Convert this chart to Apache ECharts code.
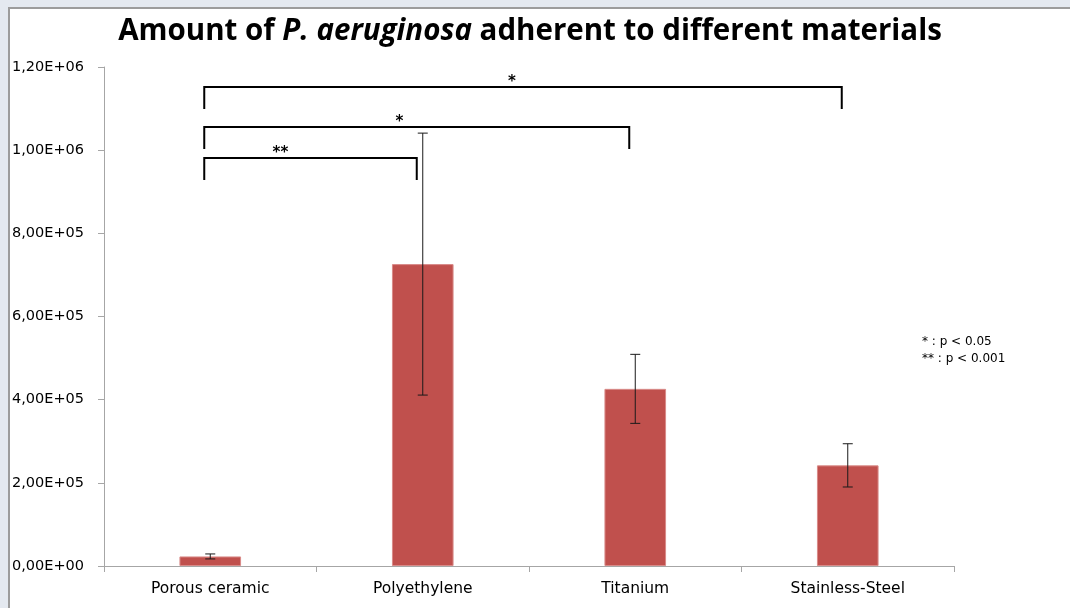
<!DOCTYPE html>
<html>
<head>
<meta charset="utf-8">
<script src="https://cdn.jsdelivr.net/npm/echarts@6/dist/echarts.min.js"></script>
<style>
  body { margin: 0; background: #e4e9f0; }
  #frame {
    position: absolute; left: 8px; top: 7px; width: 1062px; height: 601px;
    background: #ffffff; border-left: 2px solid #9c9c9c; border-top: 2px solid #9c9c9c;
  }
  #chart { position: absolute; left: 0; top: 0; width: 1070px; height: 608px; }
</style>
</head>
<body>
<div id="frame"></div>
<div id="chart"></div>
<script>
// materials tested
const categories = ['Porous ceramic', 'Polyethylene', 'Titanium', 'Stainless-Steel']
// mean number of adherent bacteria
const means = [23000, 726000, 426000, 242000]
// error bar half-heights
const errors = [6000, 315000, 83000, 52000]

// significance brackets: from category, to category, top value, bottom value, label, label position
const bracketFrom = [0, 0, 0]
const bracketTo = [1, 2, 3]
const bracketTop = [981000, 1056000, 1152000]
const bracketBottom = [928000, 1003000, 1099000]
const bracketLabels = ['**', '*', '*']
const bracketLabelPos = [0.33, 0.89, 1.42]

const chart = echarts.init(document.getElementById('chart'), null, { renderer: 'canvas' })

const fmtSci = (v) => {
  if (v === 0) return '0,00E+00'
  const e = Math.floor(Math.log10(v))
  const m = (v / Math.pow(10, e)).toFixed(2).replace('.', ',')
  return m + 'E+' + String(e).padStart(2, '0')
}

const errorData = categories.map((c, i) => [i, means[i] - errors[i], means[i] + errors[i]])
const bracketData = bracketFrom.map((f, i) => [f, bracketTo[i], bracketTop[i], bracketBottom[i], bracketLabelPos[i], i])

const option = {
  backgroundColor: 'transparent',
  animation: false,
  title: {
    text: 'Amount of {i|P. aeruginosa} adherent to different materials',
    left: 525,
    textAlign: 'center',
    top: 12,
    textStyle: {
      fontFamily: 'Open Sans',
      fontSize: 29.5,
      fontWeight: 'bold',
      color: '#000',
      rich: {
        i: { fontFamily: 'Open Sans', fontSize: 29.5, fontWeight: 'bold', fontStyle: 'italic', color: '#000' }
      }
    }
  },
  grid: { left: 104, right: 116, top: 67, bottom: 42 },
  xAxis: {
    type: 'category',
    data: categories,
    axisLine: { lineStyle: { color: '#a6a6a6', width: 1 } },
    axisTick: { show: true, length: 6, lineStyle: { color: '#a6a6a6' } },
    axisLabel: { color: '#000', fontFamily: 'DejaVu Sans', fontSize: 15.5, margin: 15 }
  },
  yAxis: {
    type: 'value',
    min: 0,
    max: 1200000,
    interval: 200000,
    axisLine: { show: true, lineStyle: { color: '#a6a6a6', width: 1 } },
    axisTick: { show: true, length: 6, lineStyle: { color: '#a6a6a6' } },
    splitLine: { show: false },
    axisLabel: {
      color: '#000', fontFamily: 'DejaVu Sans', fontSize: 14.5,
      align: 'left', margin: 92, formatter: fmtSci
    }
  },
  graphic: [
    {
      type: 'text', left: 922, top: 333,
      style: { text: '* : p < 0.05\n** : p < 0.001', fill: '#000', font: '12px "DejaVu Sans"', lineHeight: 17 }
    }
  ],
  series: [
    {
      type: 'bar',
      data: means,
      barWidth: '29%',
      itemStyle: { color: '#c0504d', borderColor: '#d98b89', borderWidth: 1 },
      z: 2
    },
    {
      type: 'custom',
      data: errorData,
      z: 3,
      renderItem: (params, api) => {
        const lo = api.coord([api.value(0), api.value(1)])
        const hi = api.coord([api.value(0), api.value(2)])
        const cap = 5
        const style = { stroke: '#1a1a1a', lineWidth: 1 }
        return {
          type: 'group',
          children: [
            { type: 'line', shape: { x1: hi[0], y1: hi[1], x2: lo[0], y2: lo[1] }, style },
            { type: 'line', shape: { x1: hi[0] - cap, y1: hi[1], x2: hi[0] + cap, y2: hi[1] }, style },
            { type: 'line', shape: { x1: lo[0] - cap, y1: lo[1], x2: lo[0] + cap, y2: lo[1] }, style }
          ]
        }
      }
    },
    {
      type: 'custom',
      data: bracketData,
      z: 4,
      renderItem: (params, api) => {
        const shift = -6
        const a = api.coord([api.value(0), api.value(2)])
        const b = api.coord([api.value(1), api.value(2)])
        const bottom = api.coord([api.value(0), api.value(3)])[1]
        const left = a[0] + shift
        const right = b[0] + shift
        const idx = api.value(5)
        const lx = api.coord([0, 0])[0] + api.value(4) * (b[0] - a[0]) / (api.value(1) - api.value(0))
        const style = { stroke: '#000', lineWidth: 2, fill: null }
        return {
          type: 'group',
          children: [
            {
              type: 'polyline',
              shape: { points: [[left, bottom], [left, a[1]], [right, a[1]], [right, bottom]] },
              style
            },
            {
              type: 'text',
              style: {
                text: bracketLabels[idx], x: lx, y: a[1] - 5,
                align: 'center', verticalAlign: 'middle',
                fill: '#000', font: 'bold 15px "DejaVu Sans"'
              }
            }
          ]
        }
      }
    }
  ]
}

chart.setOption(option)
</script>
</body>
</html>
